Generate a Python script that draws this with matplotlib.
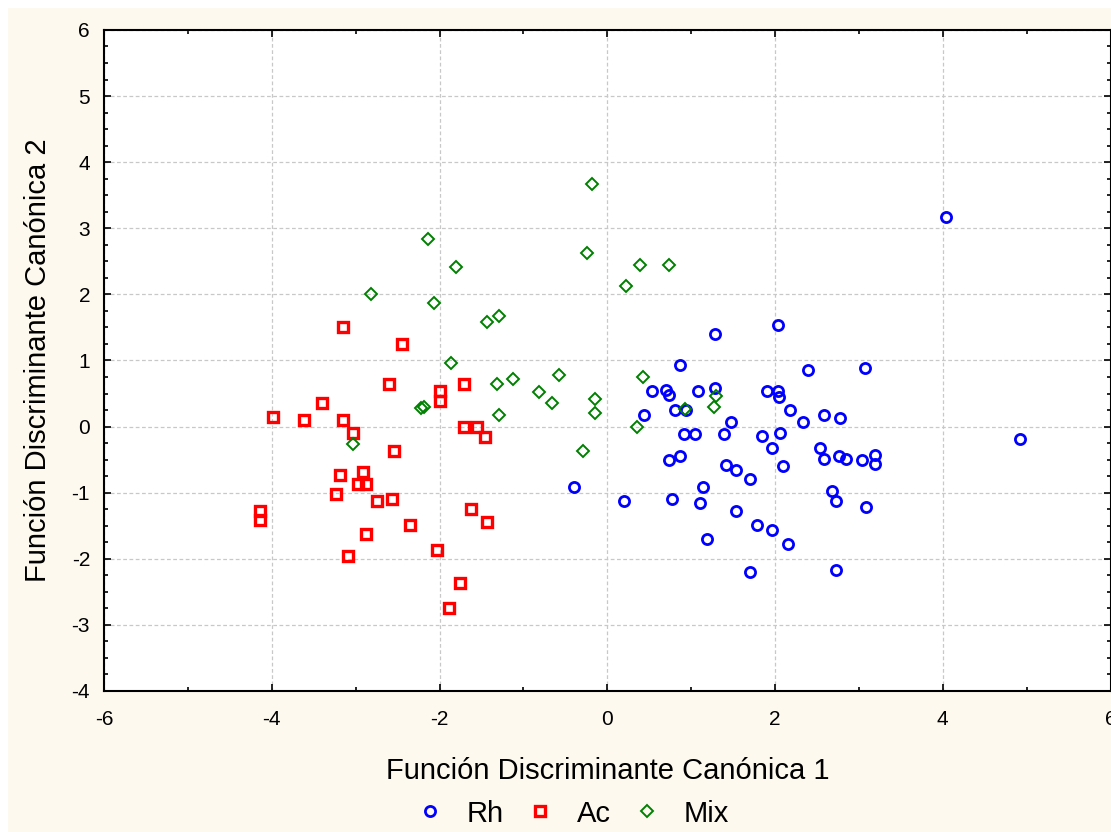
import matplotlib
matplotlib.use("Agg")
import matplotlib.pyplot as plt
from matplotlib.patches import Rectangle
from matplotlib.ticker import MultipleLocator

plt.rcParams["font.family"] = ["Liberation Sans", "DejaVu Sans"]
plt.rcParams["axes.unicode_minus"] = False

# canonical discriminant scores per group
rh_x = [-0.40, 0.20, 1.28, 2.04, 0.87, 2.39, 0.53, 0.70, 0.74, 1.08, 1.28, 1.91,
        2.04, 2.05, 2.18, 2.33, 0.44, 0.81, 0.94, 0.91, 1.04, 1.47, 1.39, 1.84,
        2.06, 1.96, 0.73, 0.87, 1.42, 1.53, 1.70, 2.10, 1.14, 0.77, 1.10, 1.53,
        1.79, 1.96, 2.16, 1.19, 1.70, 3.07, 2.58, 2.78, 2.54, 2.58, 2.76, 2.85,
        3.04, 3.19, 3.19, 2.68, 2.73, 3.09, 2.73, 4.04, 4.92]
rh_y = [-0.92, -1.13, 1.40, 1.53, 0.93, 0.85, 0.54, 0.55, 0.48, 0.54, 0.59, 0.54,
        0.54, 0.45, 0.25, 0.07, 0.18, 0.25, 0.25, -0.12, -0.12, 0.07, -0.12, -0.15,
        -0.09, -0.33, -0.51, -0.44, -0.58, -0.66, -0.80, -0.59, -0.92, -1.10, -1.16, -1.27,
        -1.49, -1.56, -1.78, -1.70, -2.20, 0.89, 0.18, 0.13, -0.33, -0.49, -0.44, -0.49,
        -0.51, -0.43, -0.57, -0.97, -1.13, -1.21, -2.17, 3.17, -0.19]

ac_x = [-3.15, -2.45, -2.60, -2.00, -2.00, -3.40, -3.99, -3.62, -3.15, -3.03, -2.54,
        -3.19, -2.91, -2.97, -2.88, -3.23, -2.74, -2.57, -4.14, -4.14, -2.35, -2.88,
        -2.03, -3.09, -1.71, -1.71, -1.55, -1.46, -1.63, -1.43, -1.75, -1.89]
ac_y = [1.50, 1.25, 0.64, 0.54, 0.38, 0.35, 0.14, 0.10, 0.10, -0.09, -0.37,
        -0.74, -0.69, -0.87, -0.87, -1.02, -1.13, -1.10, -1.27, -1.42, -1.49, -1.63,
        -1.86, -1.96, 0.64, -0.01, -0.01, -0.16, -1.24, -1.45, -2.36, -2.75]

mix_x = [-2.82, -2.06, -1.43, -1.29, -1.86, -1.32, -1.12, -0.81, -2.22, -2.19,
         -1.29, -3.03, -0.18, -2.14, -0.24, -1.80, -0.58, -0.66, -0.15, -0.15,
         -0.29, 0.39, 0.73, 0.22, 0.42, 0.36, 0.93, 1.30, 1.27]
mix_y = [2.00, 1.87, 1.58, 1.68, 0.96, 0.64, 0.72, 0.53, 0.28, 0.30,
         0.18, -0.26, 3.67, 2.84, 2.62, 2.41, 0.78, 0.35, 0.42, 0.20,
         -0.37, 2.44, 2.44, 2.12, 0.75, -0.01, 0.27, 0.46, 0.30]

fig = plt.figure(figsize=(11.11, 8.32), dpi=100)
fig.patch.set_facecolor("white")
# cream panel behind the plot
fig.patches.append(Rectangle((8 / 1111, 0), 1, 1 - 8 / 832,
                             transform=fig.transFigure, facecolor="#FDF9EE",
                             edgecolor="none", zorder=-10))

ax = fig.add_axes([0.0936, 0.1695, 0.906, 0.7945])
ax.set_facecolor("white")

ax.plot(rh_x, rh_y, "o", ms=7.3, mfc="none", mec="#0000FF", mew=2.0, label="Rh")
ax.plot(ac_x, ac_y, "s", ms=7.6, mfc="none", mec="#FF0000", mew=2.4, label="Ac")
ax.plot(mix_x, mix_y, "D", ms=6.3, mfc="none", mec="#008000", mew=1.4, label="Mix")

ax.set_xlim(-6, 6)
ax.set_ylim(-4, 6)
ax.xaxis.set_major_locator(MultipleLocator(2))
ax.xaxis.set_minor_locator(MultipleLocator(1))
ax.yaxis.set_major_locator(MultipleLocator(1))
ax.yaxis.set_minor_locator(MultipleLocator(0.25))
ax.tick_params(which="both", direction="in", top=True, right=True,
               labelsize=15, width=1.2, color="black")
ax.tick_params(which="major", length=5)
ax.tick_params(which="minor", length=3)
ax.tick_params(axis="x", which="major", pad=14)
ax.tick_params(axis="y", which="major", pad=10)

ax.grid(True, which="major", color="#C8C8C8", linestyle=(0, (3, 2)), linewidth=0.9)
ax.set_axisbelow(True)
for side in ax.spines.values():
    side.set_linewidth(1.5)
    side.set_color("black")

ax.set_xlabel("Función Discriminante Canónica 1", fontsize=21, labelpad=20)
ax.set_ylabel("Función Discriminante Canónica 2", fontsize=21, labelpad=14)

fig.legend(loc="center", bbox_to_anchor=(0.515, 0.022), ncol=3, frameon=False,
           fontsize=21, handlelength=1.0, handletextpad=0.75, columnspacing=0.75,
           borderaxespad=0)

fig.savefig("out.png", dpi=100, facecolor=fig.get_facecolor())
